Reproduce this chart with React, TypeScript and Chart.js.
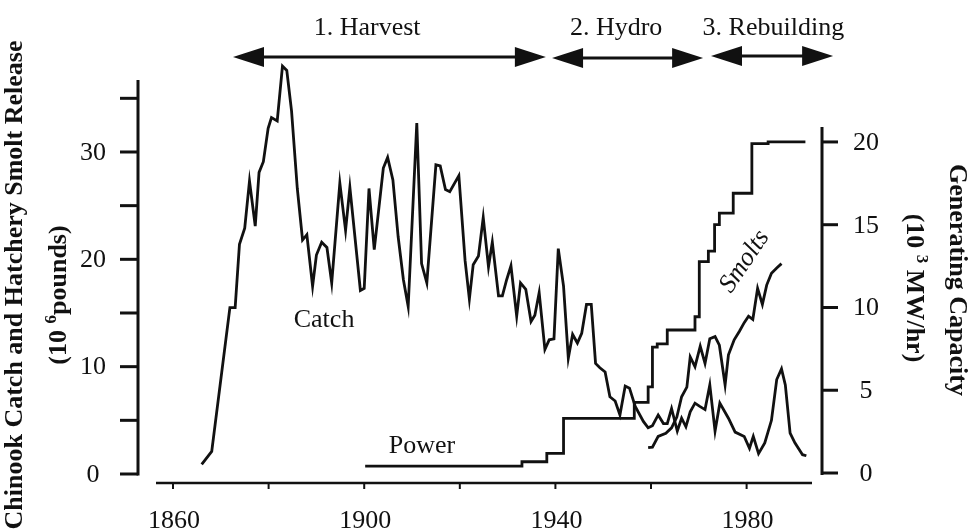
import React, { useEffect, useRef } from 'react';
import { Chart, registerables } from 'chart.js';

Chart.register(...registerables);

// ---------------- data ----------------
const catchYears = [1866, 1868.1, 1871.9, 1873, 1873.9, 1875, 1876, 1877.2, 1878, 1878.9, 1879.9, 1880.6, 1881.8, 1882.9, 1883.8, 1884.8, 1886, 1887.1, 1888, 1889.2, 1890, 1891.1, 1892.2, 1893.2, 1894.9, 1896.1, 1897, 1899.2, 1900, 1901, 1902.1, 1904, 1904.9, 1906, 1907.1, 1908.2, 1909.2, 1911, 1912, 1913.1, 1915, 1915.9, 1917, 1917.9, 1919.8, 1921.1, 1922, 1922.8, 1923.9, 1924.9, 1926, 1926.8, 1928.1, 1928.9, 1929.8, 1930.7, 1931.9, 1932.7, 1933.8, 1934.9, 1935.7, 1936.6, 1937.8, 1938.7, 1939.7, 1940.6, 1941.7, 1942.7, 1943.6, 1944.6, 1945.5, 1946.5, 1947.5, 1948.4, 1949.3, 1950.4, 1951.4, 1952.5, 1953.5, 1954.6, 1955.5, 1956.7, 1958.4, 1959.4, 1960.3, 1961.5, 1962.6, 1963.4, 1964.3, 1965.5, 1966.4, 1967.3, 1968.2, 1969.2, 1970.2, 1971.3, 1972.3, 1973.4, 1974.4, 1976.2, 1977.6, 1979.5, 1980.6, 1981.4, 1982.5, 1983.8, 1985.2, 1986.3, 1987.3, 1988.1, 1989.1, 1990.1, 1991.7, 1992.5];
const catchValues = [0.9, 2.1, 15.5, 15.5, 21.4, 22.9, 27.3, 23.1, 28.1, 29.1, 32.2, 33.2, 32.9, 38.0, 37.6, 33.8, 26.6, 21.8, 22.3, 17.5, 20.4, 21.6, 21.1, 17.8, 27.1, 22.7, 26.7, 17.1, 17.3, 26.6, 20.9, 28.5, 29.5, 27.4, 22.1, 18.1, 15.6, 32.7, 19.6, 17.8, 28.8, 28.7, 26.5, 26.3, 27.8, 19.9, 16.3, 19.5, 20.3, 23.9, 19.3, 21.6, 16.6, 16.6, 18.1, 19.4, 14.7, 17.8, 17.2, 14.2, 14.8, 16.9, 11.6, 12.5, 12.6, 21.0, 17.5, 10.8, 13.0, 12.2, 13.1, 15.8, 15.8, 10.3, 9.9, 9.5, 7.2, 6.8, 5.5, 8.2, 8.0, 6.3, 4.9, 4.3, 4.5, 5.5, 4.7, 4.7, 6.1, 4.0, 5.2, 4.4, 5.8, 6.6, 6.3, 6.0, 8.3, 4.0, 6.6, 5.2, 3.9, 3.5, 2.4, 3.5, 1.9, 2.9, 5.0, 8.8, 9.8, 8.3, 3.8, 2.9, 1.8, 1.7];

const smoltYears = [1959.4, 1960.3, 1961.5, 1963.1, 1964.3, 1965.4, 1966.4, 1967.5, 1968.2, 1969.2, 1970.3, 1971.3, 1972.3, 1973.4, 1974.3, 1975.5, 1976.2, 1977.4, 1978.5, 1979.5, 1980.4, 1981.3, 1982.3, 1983.3, 1984.2, 1985.2, 1986.3, 1987.3];
const smoltValues = [2.45, 2.5, 3.5, 3.8, 4.3, 5.3, 7.2, 8.1, 10.9, 10.0, 11.9, 10.3, 12.6, 12.8, 12.0, 8.3, 11.1, 12.5, 13.3, 14.1, 14.7, 14.4, 17.3, 15.8, 17.6, 18.7, 19.2, 19.6];

const powerYears = [1900.2, 1933, 1938.2, 1941.7, 1956.5, 1959.4, 1960.3, 1961.3, 1963.4, 1969.2, 1970.1, 1972, 1973.3, 1974.3, 1977.2, 1981.1, 1984.5, 1992.3];
const powerValues = [0.42, 0.68, 1.19, 3.3, 4.27, 5.2, 7.6, 7.8, 8.64, 9.44, 12.77, 13.4, 15.0, 15.7, 16.9, 19.9, 20.0, 20.0];

const xTickYears = [1860, 1880, 1900, 1920, 1940, 1960, 1980];
const xLabelYears = [1860, 1900, 1940, 1980];
const leftTicks = [0, 5, 10, 15, 20, 25, 30, 35];
const leftLabels = [0, 10, 20, 30];
const rightTicks = [0, 5, 10, 15, 20];
const rightLabels = [0, 5, 10, 15, 20];

const phaseLabels = ['1. Harvest', '2. Hydro', '3. Rebuilding'];
const phaseStart = [1872.55, 1939.3, 1972.55];
const phaseEnd = [1938.0, 1970.9, 1998.1];
const phaseLabelYear = [1900.6, 1952.7, 1985.6];

const seriesLabels = { catch: 'Catch', power: 'Power', smolts: 'Smolts' };
const leftTitle = 'Chinook Catch and Hatchery Smolt Release';
const rightTitle = 'Generating Capacity';

// ---------------- styling ----------------
const INK = '#111';
const SERIF = '"Liberation Serif", "Times New Roman", serif';

type Part = { text: string; font: string; dy?: number };

function drawParts(ctx: CanvasRenderingContext2D, parts: Part[], x: number, y: number, angle: number) {
  ctx.save();
  ctx.translate(x, y);
  ctx.rotate(angle);
  let total = 0;
  const widths = parts.map((p) => {
    ctx.font = p.font;
    const w = ctx.measureText(p.text).width;
    total += w;
    return w;
  });
  let cx = -total / 2;
  ctx.textAlign = 'left';
  ctx.textBaseline = 'alphabetic';
  parts.forEach((p, i) => {
    ctx.font = p.font;
    ctx.fillText(p.text, cx, p.dy || 0);
    cx += widths[i];
  });
  ctx.restore();
}

function arrow(ctx: CanvasRenderingContext2D, x1: number, x2: number, y: number) {
  const hl = 31;
  const hh = 10;
  ctx.lineWidth = 3;
  ctx.beginPath();
  ctx.moveTo(x1 + hl - 2, y);
  ctx.lineTo(x2 - hl + 2, y);
  ctx.stroke();
  ctx.beginPath();
  ctx.moveTo(x1, y);
  ctx.lineTo(x1 + hl, y - hh);
  ctx.lineTo(x1 + hl, y + hh);
  ctx.closePath();
  ctx.fill();
  ctx.beginPath();
  ctx.moveTo(x2, y);
  ctx.lineTo(x2 - hl, y - hh);
  ctx.lineTo(x2 - hl, y + hh);
  ctx.closePath();
  ctx.fill();
}

const paperPlugin = {
  id: 'paperAxes',
  beforeDraw(chart: any) {
    const ctx = chart.ctx;
    ctx.save();
    ctx.fillStyle = '#fff';
    ctx.fillRect(0, 0, chart.width, chart.height);
    ctx.restore();
  },
  afterDatasetsDraw(chart: any) {
    const ctx: CanvasRenderingContext2D = chart.ctx;
    const area = chart.chartArea;
    const xs = chart.scales.x;
    const yl = chart.scales.y;
    const yr = chart.scales.y2;
    ctx.save();
    ctx.strokeStyle = INK;
    ctx.fillStyle = INK;
    ctx.lineCap = 'butt';

    // left axis (detached)
    const lx = area.left - 18;
    ctx.lineWidth = 3;
    ctx.beginPath();
    ctx.moveTo(lx, yl.getPixelForValue(36.7));
    ctx.lineTo(lx, yl.getPixelForValue(0) + 1.5);
    ctx.stroke();
    leftTicks.forEach((t) => {
      const py = yl.getPixelForValue(t);
      ctx.beginPath();
      ctx.moveTo(lx - 18, py);
      ctx.lineTo(lx, py);
      ctx.stroke();
    });
    ctx.font = '26px ' + SERIF;
    ctx.textAlign = 'center';
    ctx.textBaseline = 'middle';
    leftLabels.forEach((t) => {
      ctx.fillText(String(t), lx - 45, yl.getPixelForValue(t) + 1);
    });

    // right axis
    const rx = area.right + 10;
    ctx.lineWidth = 3;
    ctx.beginPath();
    ctx.moveTo(rx, yr.getPixelForValue(20.9));
    ctx.lineTo(rx, yr.getPixelForValue(0) + 2);
    ctx.stroke();
    rightTicks.forEach((t) => {
      const py = yr.getPixelForValue(t);
      ctx.beginPath();
      ctx.moveTo(rx, py);
      ctx.lineTo(rx + 16, py);
      ctx.stroke();
    });
    rightLabels.forEach((t) => {
      ctx.fillText(String(t), rx + 44, yr.getPixelForValue(t) + 1);
    });

    // x axis (detached, below)
    const ay = area.bottom + 9;
    ctx.lineWidth = 2.5;
    ctx.beginPath();
    ctx.moveTo(area.left, ay);
    ctx.lineTo(area.right, ay);
    ctx.stroke();
    ctx.lineWidth = 2;
    xTickYears.forEach((t) => {
      const px = xs.getPixelForValue(t);
      ctx.beginPath();
      ctx.moveTo(px, ay);
      ctx.lineTo(px, ay + 6);
      ctx.stroke();
    });
    ctx.textBaseline = 'alphabetic';
    xLabelYears.forEach((t) => {
      ctx.fillText(String(t), xs.getPixelForValue(t) + 1, ay + 45);
    });

    // phase arrows and labels
    const arrowY = [57, 58, 56];
    phaseLabels.forEach((lab, i) => {
      arrow(ctx, xs.getPixelForValue(phaseStart[i]), xs.getPixelForValue(phaseEnd[i]), arrowY[i]);
      ctx.font = '26px ' + SERIF;
      ctx.textAlign = 'center';
      ctx.textBaseline = 'alphabetic';
      ctx.fillText(lab, xs.getPixelForValue(phaseLabelYear[i]), 35);
    });

    // series labels
    ctx.font = '26px ' + SERIF;
    ctx.textAlign = 'center';
    ctx.fillText(seriesLabels.catch, xs.getPixelForValue(1891.6), yl.getPixelForValue(13.7));
    ctx.fillText(seriesLabels.power, xs.getPixelForValue(1912.1), yl.getPixelForValue(2.0));
    ctx.save();
    ctx.translate(xs.getPixelForValue(1979.6), yl.getPixelForValue(19.8));
    ctx.rotate(-56 * Math.PI / 180);
    ctx.font = 'italic 26px ' + SERIF;
    ctx.textBaseline = 'middle';
    ctx.fillText(seriesLabels.smolts, 0, 0);
    ctx.restore();

    // axis titles
    const bold = 'bold 26px ' + SERIF;
    const boldSup = 'bold 17px ' + SERIF;
    drawParts(ctx, [{ text: leftTitle, font: bold }], 22, 285, -Math.PI / 2);
    drawParts(ctx, [
      { text: '(10 ', font: bold },
      { text: '6', font: boldSup, dy: -10 },
      { text: 'pounds)', font: bold },
    ], 66, 295, -Math.PI / 2);
    drawParts(ctx, [{ text: rightTitle, font: bold }], 950, 280, Math.PI / 2);
    drawParts(ctx, [
      { text: '(10 ', font: bold },
      { text: '3', font: boldSup, dy: -10 },
      { text: ' MW/hr)', font: bold },
    ], 907, 288, Math.PI / 2);

    ctx.restore();
  },
};

export default function App() {
  const ref = useRef<HTMLCanvasElement | null>(null);
  useEffect(() => {
    if (!ref.current) return;
    const toPts = (xs: number[], ys: number[]) => xs.map((x, i) => ({ x, y: ys[i] }));
    const line = { borderColor: INK, borderWidth: 2.8, pointRadius: 0, tension: 0, fill: false, clip: false as any };
    const chart = new Chart(ref.current, {
      type: 'line',
      data: {
        datasets: [
          { ...line, label: seriesLabels.catch, data: toPts(catchYears, catchValues), yAxisID: 'y' },
          { ...line, label: seriesLabels.smolts, data: toPts(smoltYears, smoltValues), yAxisID: 'y' },
          { ...line, label: seriesLabels.power, data: toPts(powerYears, powerValues), yAxisID: 'y2', stepped: 'before' },
        ],
      },
      options: {
        animation: false,
        responsive: false,
        devicePixelRatio: 1,
        events: [],
        layout: { padding: { left: 156, right: 157, top: 60, bottom: 58 } },
        plugins: { legend: { display: false }, tooltip: { enabled: false } },
        scales: {
          x: { type: 'linear', min: 1856.44, max: 1993.68, display: false },
          y: { type: 'linear', min: 0, max: 38.57, display: false },
          y2: { type: 'linear', min: -0.06, max: 24.95, display: false },
        },
      },
      plugins: [paperPlugin],
    });
    return () => chart.destroy();
  }, []);
  return (
    <div style={{ position: 'fixed', left: 0, top: 0, width: 969, height: 532, background: '#fff' }}>
      <canvas ref={ref} width={969} height={532} style={{ display: 'block' }} />
    </div>
  );
}
